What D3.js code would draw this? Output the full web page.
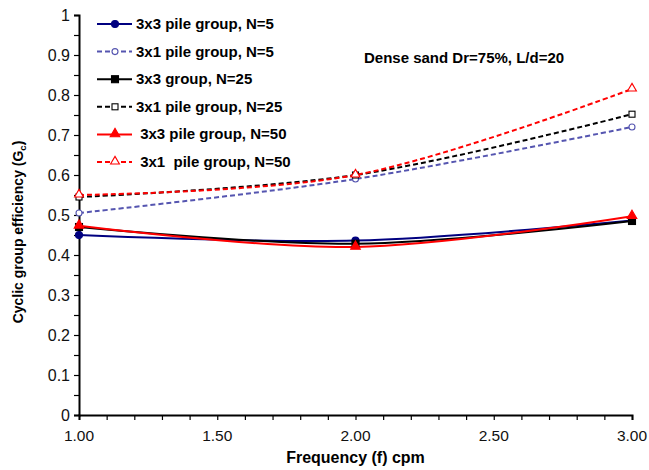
<!DOCTYPE html>
<html>
<head>
<meta charset="utf-8">
<script src="https://cdn.jsdelivr.net/npm/d3@7"></script>
<style>
  body { margin: 0; background: #fff; }
  text { font-family: "Liberation Sans", Arial, sans-serif; }
</style>
</head>
<body>
<svg width="649" height="470"></svg>
<script>
// frequency values (cpm)
var freq = [1, 2, 3];
var pg33N5 = [0.45, 0.436, 0.486];
var pg31N5 = [0.505, 0.59, 0.72];
var pg33N25 = [0.47, 0.428, 0.485];
var pg31N25 = [0.545, 0.60, 0.752];
var pg33N50 = [0.473, 0.42, 0.497];
var pg31N50 = [0.55, 0.60, 0.815];
var seriesNames = ["3x3 pile group, N=5", "3x1 pile group, N=5", "3x3 group, N=25",
                   "3x1 pile group, N=25", " 3x3 pile group, N=50", " 3x1  pile group, N=50"];
var xTickLabels = ["1.00", "1.50", "2.00", "2.50", "3.00"];
var yTickLabels = ["0", "0.1", "0.2", "0.3", "0.4", "0.5", "0.6", "0.7", "0.8", "0.9", "1"];

var series = [
  {name: seriesNames[0], vals: pg33N5, color: "#000080", dash: null, marker: "circle", fill: true},
  {name: seriesNames[1], vals: pg31N5, color: "#5555b0", dash: "5,3", marker: "circle", fill: false},
  {name: seriesNames[2], vals: pg33N25, color: "#000000", dash: null, marker: "square", fill: true},
  {name: seriesNames[3], vals: pg31N25, color: "#000000", dash: "5,3", marker: "square", fill: false},
  {name: seriesNames[4], vals: pg33N50, color: "#ff0000", dash: null, marker: "triangle", fill: true},
  {name: seriesNames[5], vals: pg31N50, color: "#ff0000", dash: "5,3", marker: "triangle", fill: false}
];

var svg = d3.select("svg");
var margin = {top: 15, right: 17, bottom: 55, left: 79};
var width = 649 - margin.left - margin.right;
var height = 470 - margin.top - margin.bottom;

var g = svg.append("g")
  .attr("transform", "translate(" + margin.left + "," + margin.top + ")");

var x = d3.scaleLinear().domain([1, 3]).range([0, width]);
var y = d3.scaleLinear().domain([0, 1]).range([height, 0]);

// minor ticks
var xAxisMinor = d3.axisBottom(x).tickValues(d3.range(10, 31).map(function(d) { return d / 10; }))
  .tickSize(5).tickFormat("");
var yAxisMinor = d3.axisLeft(y).tickValues(d3.range(0, 21).map(function(d) { return d / 20; }))
  .tickSize(5).tickFormat("");

g.append("g").attr("transform", "translate(0," + height + ")").call(xAxisMinor)
  .call(function(s) { s.select(".domain").attr("stroke-width", 2); s.selectAll("line").attr("stroke-width", 1.2); });
g.append("g").call(yAxisMinor)
  .call(function(s) { s.select(".domain").attr("stroke-width", 2); s.selectAll("line").attr("stroke-width", 1.2); });

// tick labels
g.append("g").selectAll("text").data(xTickLabels).enter().append("text")
  .attr("x", function(d) { return x(+d); })
  .attr("y", height + 26)
  .attr("text-anchor", "middle")
  .attr("font-size", 15.5)
  .attr("fill", "#111")
  .text(function(d) { return d; });

g.append("g").selectAll("text").data(yTickLabels).enter().append("text")
  .attr("x", -9)
  .attr("y", function(d) { return y(+d) + 5.5; })
  .attr("text-anchor", "end")
  .attr("font-size", 16)
  .attr("fill", "#111")
  .text(function(d) { return d; });

// axis titles
svg.append("text")
  .attr("x", margin.left + x(2))
  .attr("y", 463)
  .attr("text-anchor", "middle")
  .attr("font-size", 16).attr("font-weight", "bold")
  .text("Frequency (f) cpm");

var yt = svg.append("text")
  .attr("transform", "translate(23,232) rotate(-90)")
  .attr("text-anchor", "middle")
  .attr("font-size", 14).attr("font-weight", "bold");
yt.append("tspan").text("Cyclic group efficiency (G");
yt.append("tspan").attr("font-size", 9.5).attr("dy", 3).text("c");
yt.append("tspan").attr("dy", -3).text(")");

// annotation
svg.append("text")
  .attr("x", 364).attr("y", 63)
  .attr("font-size", 15).attr("font-weight", "bold")
  .text("Dense sand Dr=75%, L/d=20");

function drawMarker(sel, type, cx, cy, color, fill) {
  var m;
  if (type === "circle") {
    m = sel.append("circle").attr("cx", cx).attr("cy", cy).attr("r", fill ? 3.5 : 3);
  } else if (type === "square") {
    var s = fill ? 7 : 6;
    m = sel.append("rect").attr("x", cx - s / 2).attr("y", cy - s / 2).attr("width", s).attr("height", s);
  } else {
    var t = d3.symbol().type(d3.symbolTriangle).size(fill ? 40 : 34);
    m = sel.append("path").attr("d", t()).attr("transform", "translate(" + cx + "," + (cy - 0.5) + ")");
  }
  m.attr("stroke", color).attr("stroke-width", 1.1).attr("fill", fill ? color : "#fff");
}

var line = d3.line()
  .x(function(d, i) { return x(freq[i]); })
  .y(function(d) { return y(d); })
  .curve(d3.curveCatmullRom.alpha(0.5));

// draw lines first, markers on top
series.forEach(function(s) {
  g.append("path").datum(s.vals)
    .attr("d", line)
    .attr("fill", "none")
    .attr("stroke", s.color)
    .attr("stroke-width", 2)
    .attr("stroke-dasharray", s.dash);
});
series.forEach(function(s) {
  s.vals.forEach(function(v, i) {
    drawMarker(g, s.marker, x(freq[i]), y(v), s.color, s.fill);
  });
});

// legend
var leg = svg.append("g");
series.forEach(function(s, i) {
  var ly = 24 + i * 27.6;
  leg.append("line").attr("x1", 97).attr("x2", 132).attr("y1", ly).attr("y2", ly)
    .attr("stroke", s.color).attr("stroke-width", 2).attr("stroke-dasharray", s.dash);
  drawMarker(leg, s.marker, 115, ly, s.color, s.fill);
  leg.append("text").attr("x", 136).attr("y", ly + 5)
    .attr("font-size", 15).attr("font-weight", "bold")
    .attr("xml:space", "preserve").style("white-space", "pre")
    .text(s.name);
});
</script>
</body>
</html>
